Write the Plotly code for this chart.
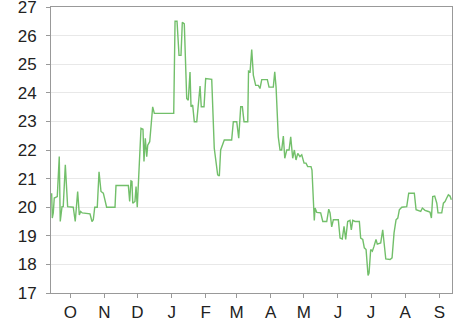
import pandas as pd
import plotly.graph_objects as go

start_date = "2009-09-13"
range_days = [0.5, 364.5]

# days since start_date, and values
days = [1.1, 1.66, 2.57, 3.47, 6.2, 8.0, 8.9, 10.5, 11.6, 13.5, 15.6, 20.7, 22.5, 24.7, 26.2, 27.4, 28.9,
        35.9, 37.7, 38.9, 40.2, 42.5, 44.1, 45.9, 48.0, 51.0, 58.6, 59.5, 70.7, 71.9, 73.1, 74.0, 74.7,
        76.7, 77.7, 78.8, 82.2, 84.0, 84.9, 86.1, 87.4, 88.3, 90.1, 91.3, 92.8, 94.3, 111.9, 113.1, 114.9,
        116.7, 118.5, 119.7, 121.5, 123.7, 125.1, 126.7, 127.6, 129.1, 130.6, 132.8, 134.2, 135.8, 136.9,
        139.4, 140.9, 146.4, 148.7, 150.3, 151.8, 153.3, 154.5, 157.8, 164.5, 166.0, 169.1, 170.9, 172.7,
        174.2, 175.7, 179.1, 179.8, 181.2, 182.7, 184.2, 186.3, 188.7, 190.2, 191.8, 196.9, 198.4, 202.3,
        203.6, 204.8, 206.8, 208.4, 209.9, 211.4, 212.7, 214.5, 216.6, 218.1, 219.9, 221.4, 222.9, 224.5,
        226.5, 228.1, 230.2, 232.0, 233.5, 236.5, 237.4, 238.6, 239.5, 240.2, 241.7, 245.3, 247.2, 250.8,
        252.6, 253.8, 255.3, 256.8, 261.3, 262.9, 264.9, 266.5, 268.0, 269.8, 271.9, 273.1, 274.4, 276.5,
        280.4, 281.6, 283.5, 284.9, 286.5, 288.3, 289.2, 290.7, 292.2, 293.7, 295.5, 296.7, 299.8, 301.6,
        303.1, 304.4, 308.3, 310.1, 311.9, 313.7, 315.3, 316.7, 318.9, 323.4, 325.2, 330.3, 331.9, 336.1,
        337.6, 340.0, 343.0, 344.6, 345.8, 347.0, 348.8, 350.7, 351.8, 355.2, 356.7, 358.2, 359.7, 361.2,
        362.7, 363.9]
values = [20.49, 19.62, 19.8, 20.32, 20.37, 21.77, 19.5, 20.02, 20.02, 21.48, 20.02, 20.0, 19.5, 20.55, 19.73,
          19.85, 19.8, 19.77, 19.5, 19.56, 20.0, 20.0, 21.24, 20.55, 20.49, 20.0, 20.0, 20.76, 20.76, 20.2,
          20.92, 20.9, 20.14, 20.2, 20.72, 20.0, 22.76, 22.73, 21.6, 22.41, 21.77, 22.17, 22.29, 22.87, 23.51,
          23.28, 23.28, 26.5, 26.5, 25.31, 25.31, 26.47, 26.41, 23.8, 23.74, 24.73, 23.51, 23.57, 22.99, 22.99,
          23.51, 24.24, 23.51, 23.51, 24.5, 24.47, 22.06, 21.48, 21.13, 21.09, 22.0, 22.35, 22.35, 22.99, 22.99,
          22.41, 23.51, 23.51, 22.99, 22.99, 24.76, 24.73, 25.51, 24.61, 24.26, 24.26, 24.15, 24.46, 24.46, 24.2,
          24.2, 24.73, 24.2, 22.46, 22.0, 22.0, 22.49, 21.71, 22.0, 22.0, 22.46, 21.71, 22.0, 21.65, 21.88,
          21.77, 21.83, 21.54, 21.54, 21.42, 21.42, 21.3, 20.14, 19.54, 19.97, 19.82, 19.8, 19.5, 19.5,
          19.93, 19.8, 19.31, 19.56, 19.56, 18.92, 18.89, 19.33, 18.87, 19.5, 19.54, 19.21, 19.54, 19.5,
          19.5, 18.92, 18.87, 18.58, 18.52, 17.61, 17.7, 18.52, 18.46, 18.63, 18.87, 18.71, 18.75, 19.21,
          18.69, 18.19, 18.17, 18.23, 19.1, 19.56, 19.62, 19.91, 20.0, 20.02, 20.49, 20.49, 19.91, 19.85,
          19.97, 19.89, 19.85, 19.82, 19.62, 20.37, 20.39, 20.14, 19.8, 19.8, 20.14, 20.2, 20.32, 20.43,
          20.39, 20.26]

tick_dates = ["2009-10-01", "2009-11-01", "2009-12-01", "2010-01-01", "2010-02-01", "2010-03-01",
              "2010-04-01", "2010-05-01", "2010-06-01", "2010-07-01", "2010-08-01", "2010-09-01"]
tick_labels = ["O", "N", "D", "J", "F", "M", "A", "M", "J", "J", "A", "S"]
y_ticks = list(range(17, 28))

t0 = pd.Timestamp(start_date)
dates = [t0 + pd.Timedelta(days=d) for d in days]
xr = [t0 + pd.Timedelta(days=d) for d in range_days]

fig = go.Figure(go.Scatter(x=dates, y=values, mode="lines",
                           line=dict(color="#72bf6a", width=1.4)))

fig.update_layout(
    width=466, height=318,
    margin=dict(l=51, r=14, t=7, b=25),
    paper_bgcolor="white", plot_bgcolor="white",
    showlegend=False,
    font=dict(family="Liberation Sans, Arial, sans-serif", size=17, color="#222"),
)
fig.update_xaxes(
    range=xr, tickvals=tick_dates, ticktext=tick_labels,
    showgrid=False, showline=True, linecolor="#999", linewidth=1, mirror=True,
    ticks="outside", ticklen=4, tickcolor="#999", tickfont=dict(size=17),
    ticklabelstandoff=0, ticklabeloverflow="allow", automargin=False,
    zeroline=False,
)
fig.update_yaxes(
    range=[17, 27], tickvals=y_ticks,
    showgrid=True, gridcolor="#e8e8e8", gridwidth=1,
    showline=True, linecolor="#999", linewidth=1, mirror=True,
    ticks="outside", ticklen=4, tickcolor="#999", tickfont=dict(size=17),
    ticklabelstandoff=6, ticklabeloverflow="allow", automargin=False,
    zeroline=False,
)

fig.write_html("out.html")
